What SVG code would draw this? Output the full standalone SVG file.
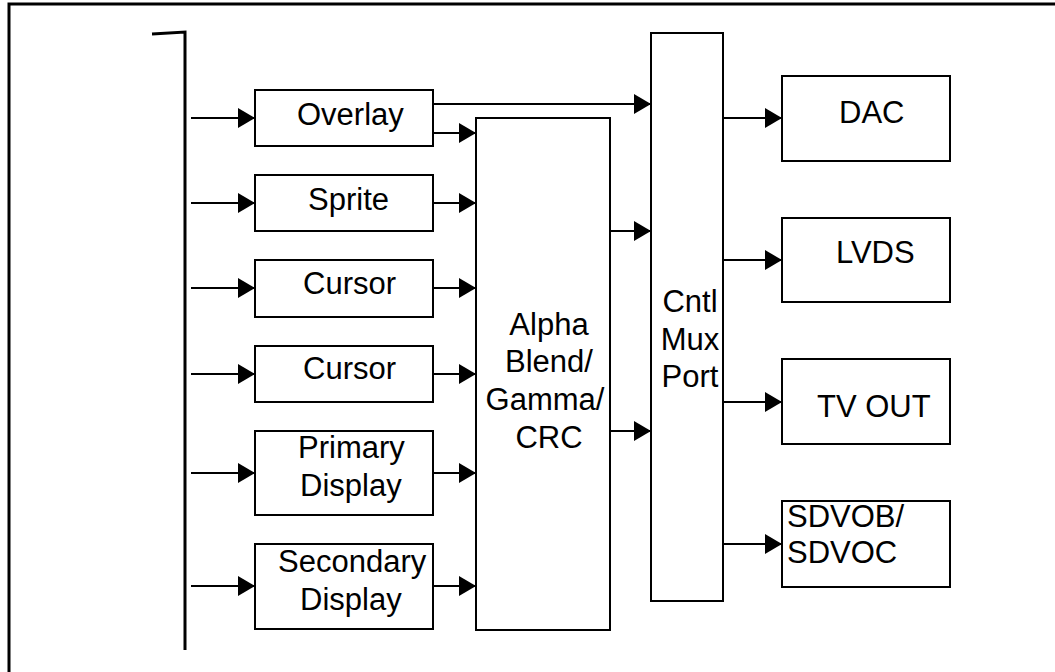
<svg xmlns="http://www.w3.org/2000/svg" width="1055" height="672" viewBox="0 0 1055 672">
<defs>
<marker id="ah" markerWidth="17" markerHeight="20" refX="17" refY="10" orient="auto" markerUnits="userSpaceOnUse">
<path d="M0,0 L17,10 L0,20 Z" fill="#000"/>
</marker>
<style>
.box{fill:#fff;stroke:#000;stroke-width:2}
.t{font-family:"Liberation Sans",Arial,sans-serif;font-size:31px;fill:#000}
.c{stroke:#000;stroke-width:2;fill:none}
.a{stroke:#000;stroke-width:2;fill:none;marker-end:url(#ah)}
</style>
</defs>
<rect width="1055" height="672" fill="#fff"/>
<path d="M9,690 L9,4 L1070,4" fill="none" stroke="#000" stroke-width="3"/>
<g id="bus">
<path d="M152,34 L185,32 L185,650" fill="none" stroke="#000" stroke-width="3"/>
</g>
<g id="connectors">
<line class="a" x1="191" y1="118" x2="255" y2="118"/>
<line class="a" x1="191" y1="203" x2="255" y2="203"/>
<line class="a" x1="191" y1="288" x2="255" y2="288"/>
<line class="a" x1="191" y1="374" x2="255" y2="374"/>
<line class="a" x1="191" y1="473" x2="255" y2="473"/>
<line class="a" x1="191" y1="586" x2="255" y2="586"/>
<line class="a" x1="433" y1="133" x2="476" y2="133"/>
<line class="a" x1="433" y1="203" x2="476" y2="203"/>
<line class="a" x1="433" y1="288" x2="476" y2="288"/>
<line class="a" x1="433" y1="374" x2="476" y2="374"/>
<line class="a" x1="433" y1="473" x2="476" y2="473"/>
<line class="a" x1="433" y1="586" x2="476" y2="586"/>
<line class="a" x1="433" y1="104" x2="651" y2="104"/>
<line class="a" x1="610" y1="231" x2="651" y2="231"/>
<line class="a" x1="610" y1="431" x2="651" y2="431"/>
<line class="a" x1="723" y1="118" x2="782" y2="118"/>
<line class="a" x1="723" y1="260" x2="782" y2="260"/>
<line class="a" x1="723" y1="402" x2="782" y2="402"/>
<line class="a" x1="723" y1="544" x2="782" y2="544"/>
</g>
<g id="overlay"><rect class="box" x="255" y="90" width="178" height="56"/><text class="t" x="297" y="125">Overlay</text></g>
<g id="sprite"><rect class="box" x="255" y="175" width="178" height="56"/><text class="t" x="308" y="210">Sprite</text></g>
<g id="cursor1"><rect class="box" x="255" y="260" width="178" height="57"/><text class="t" x="303" y="294">Cursor</text></g>
<g id="cursor2"><rect class="box" x="255" y="346" width="178" height="56"/><text class="t" x="303" y="379">Cursor</text></g>
<g id="primary"><rect class="box" x="255" y="431" width="178" height="84"/><text class="t" x="298" y="458">Primary</text><text class="t" x="300" y="496">Display</text></g>
<g id="secondary"><rect class="box" x="255" y="544" width="178" height="85"/><text class="t" x="278" y="572">Secondary</text><text class="t" x="300" y="610">Display</text></g>
<g id="alpha"><rect class="box" x="476" y="118" width="134" height="512"/>
<text class="t" text-anchor="middle" x="549" y="335">Alpha</text>
<text class="t" text-anchor="middle" x="549" y="372">Blend/</text>
<text class="t" text-anchor="middle" x="545" y="410">Gamma/</text>
<text class="t" text-anchor="middle" x="549" y="448">CRC</text></g>
<g id="cntl"><rect class="box" x="651" y="33" width="72" height="568"/>
<text class="t" text-anchor="middle" x="690" y="312">Cntl</text>
<text class="t" text-anchor="middle" x="690" y="350">Mux</text>
<text class="t" text-anchor="middle" x="690" y="387">Port</text></g>
<g id="dac"><rect class="box" x="782" y="76" width="168" height="85"/><text class="t" x="839" y="123">DAC</text></g>
<g id="lvds"><rect class="box" x="782" y="218" width="168" height="84"/><text class="t" x="836" y="263">LVDS</text></g>
<g id="tvout"><rect class="box" x="782" y="359" width="168" height="85"/><text class="t" x="817" y="417">TV OUT</text></g>
<g id="sdvo"><rect class="box" x="782" y="501" width="168" height="86"/><text class="t" x="787" y="527">SDVOB/</text><text class="t" x="787" y="563">SDVOC</text></g>
</svg>
